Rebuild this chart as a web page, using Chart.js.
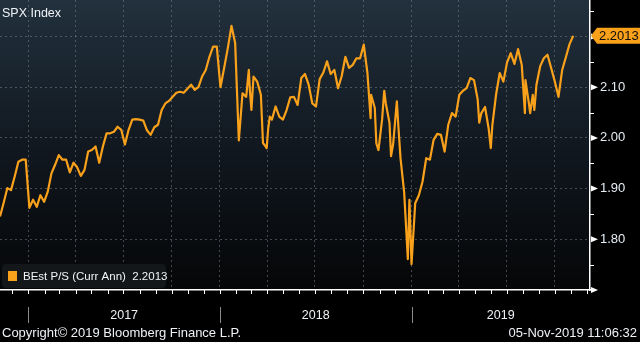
<!DOCTYPE html>
<html>
<head>
<meta charset="utf-8">
<script src="https://cdn.jsdelivr.net/npm/chart.js@4.4.1/dist/chart.umd.min.js"></script>
<style>
  html, body { margin: 0; padding: 0; background: #000; }
  #wrap { width: 640px; height: 342px; }
</style>
</head>
<body>
<div id="wrap"><canvas id="psChart" width="640" height="342"></canvas></div>
<script>
// SPX BEst P/S (Curr Ann), weekly closes starting 2016-11-08
let firstWeek = '2016-11-08'
let psRatio = [
  1.845, 1.872, 1.901, 1.897, 1.924, 1.953, 1.957, 1.957, 1.862, 1.878,
  1.864, 1.887, 1.874, 1.894, 1.930, 1.947, 1.966, 1.957, 1.957, 1.932,
  1.951, 1.942, 1.925, 1.937, 1.973, 1.976, 1.983, 1.951, 1.983, 2.009,
  2.009, 2.012, 2.022, 2.016, 1.987, 2.016, 2.036, 2.037, 2.036, 2.034,
  2.015, 2.006, 2.021, 2.026, 2.055, 2.068, 2.073, 2.081, 2.089, 2.091,
  2.089, 2.097, 2.105, 2.095, 2.100, 2.121, 2.134, 2.160, 2.180, 2.180,
  2.100, 2.138, 2.177, 2.221, 2.187, 1.995, 2.088, 2.081, 2.095, 2.121,
  2.111, 2.085, 1.986, 2.019, 2.036, 2.062, 2.042, 2.036, 2.055, 2.080,
  2.081, 2.065, 2.118, 2.126, 2.105, 2.068, 2.062, 2.116, 2.129, 2.151,
  2.126, 2.134, 2.098, 2.122, 2.160, 2.138, 2.144, 2.157, 2.157, 2.184,
  2.128, 2.085, 2.059, 1.976, 2.037, 2.068, 2.030, 1.988, 2.072, 1.960,
  1.892, 1.761, 1.751, 1.871, 1.887, 1.914, 1.960, 1.957, 1.996, 2.008,
  2.006, 1.973, 2.026, 2.049, 2.042, 2.085, 2.093, 2.098, 2.118, 2.114,
  2.076, 2.049, 2.061, 2.018, 2.025, 2.085, 2.128, 2.111, 2.149, 2.167,
  2.146, 2.175, 2.144, 2.114, 2.065, 2.085, 2.105, 2.141, 2.157, 2.164,
  2.138, 2.111, 2.081, 2.134, 2.159, 2.185, 2.2013
]

// intraweek highs and lows the weekly closes skip over
let intraweekDates = [
  '2018-02-25', '2018-03-02', '2018-03-24', '2018-03-31', '2018-04-06',
  '2018-10-15', '2018-10-26', '2018-11-10', '2018-11-23', '2018-12-07',
  '2018-12-28', '2019-05-10', '2019-06-01', '2019-08-05', '2019-08-15',
  '2019-08-23'
]
let intraweekValues = [
  2.134, 2.055, 1.990, 1.980, 2.042,
  2.039, 1.989, 2.093, 1.964, 2.022,
  1.878, 2.030, 1.980, 2.049, 2.049,
  2.055
]

let yearLabels = ['2017', '2018', '2019']
let yLabelled = [1.80, 1.90, 2.00, 2.10, 2.20]
let yMinor = [1.75, 1.85, 1.95, 2.05, 2.15, 2.25]

const epoch = Date.parse('2017-01-01')
function dayOf(s) { return (Date.parse(s) - epoch) / 864e5 }

let xMin = dayOf('2016-11-08')
let xMax = dayOf('2019-12-07')

let points = psRatio.map((v, i) => ({ x: dayOf(firstWeek) + 7 * i, y: v }))
intraweekDates.forEach((d, i) => points.push({ x: dayOf(d), y: intraweekValues[i] }))
points.sort((a, b) => a.x - b.x)
let lastValue = psRatio[psRatio.length - 1]

// month starts inside the range, quarters get a grid line
let monthStarts = []
let quarterStarts = []
for (let yr = 2016; yr <= 2019; yr++) {
  for (let m = 1; m <= 12; m++) {
    let d = dayOf(yr + '-' + String(m).padStart(2, '0') + '-01')
    if (d < xMin || d > xMax) continue
    monthStarts.push(d)
    if ((m - 1) % 3 === 0) quarterStarts.push(d)
  }
}

const FONT = '"Liberation Sans", Arial, sans-serif'
const ORANGE = '#f9a11b'
const GRID = 'rgba(120,126,132,0.55)'

// no extra room around the plot, the axes take fixed strips
function noPadding(s) {
  s.paddingTop = 0
  s.paddingBottom = 0
  s.paddingLeft = 0
  s.paddingRight = 0
}

const decorations = {
  id: 'decorations',
  beforeDraw(chart) {
    const { ctx, chartArea: a } = chart
    ctx.save()
    ctx.fillStyle = '#000'
    ctx.fillRect(0, 0, chart.width, chart.height)
    let g = ctx.createLinearGradient(0, a.top, 0, a.bottom)
    g.addColorStop(0, '#22313d')
    g.addColorStop(0.5, '#111820')
    g.addColorStop(1, '#050607')
    ctx.fillStyle = g
    ctx.fillRect(a.left, a.top, a.right - a.left, a.bottom - a.top)
    ctx.restore()
  },
  afterDraw(chart) {
    const { ctx, chartArea: a, scales: { x, y } } = chart
    ctx.save()
    ctx.textBaseline = 'middle'

    // title
    ctx.font = '12.5px ' + FONT
    ctx.fillStyle = '#eef2f6'
    ctx.textAlign = 'left'
    ctx.fillText('SPX Index', 2, 14)

    // monthly ticks under the time axis
    ctx.strokeStyle = '#ffffff'
    ctx.lineWidth = 1
    monthStarts.forEach(d => {
      let px = Math.round(x.getPixelForValue(d)) + 0.5
      ctx.beginPath()
      ctx.moveTo(px, a.bottom)
      ctx.lineTo(px, a.bottom + 4)
      ctx.stroke()
    })

    // year separators and year names
    ctx.font = '12.5px ' + FONT
    ctx.textAlign = 'center'
    yearLabels.forEach(yr => {
      let p0 = x.getPixelForValue(dayOf(yr + '-01-01'))
      let p1 = x.getPixelForValue(Math.min(dayOf((+yr + 1) + '-01-01'), xMax))
      let px = Math.round(p0) + 0.5
      ctx.strokeStyle = '#8a8a8a'
      ctx.beginPath()
      ctx.moveTo(px, a.bottom + 17)
      ctx.lineTo(px, a.bottom + 33)
      ctx.stroke()
      ctx.fillStyle = '#eef2f6'
      ctx.fillText(yr, (p0 + p1) / 2, a.bottom + 26)
    })

    // value axis: small ticks and arrow markers
    ctx.strokeStyle = '#ffffff'
    yMinor.forEach(v => {
      let py = Math.round(y.getPixelForValue(v)) + 0.5
      ctx.beginPath()
      ctx.moveTo(a.right, py)
      ctx.lineTo(a.right + 4, py)
      ctx.stroke()
    })
    ctx.fillStyle = '#ffffff'
    yLabelled.concat([1.70]).forEach(v => {
      let py = y.getPixelForValue(v)
      ctx.beginPath()
      ctx.moveTo(a.right + 1, py - 3)
      ctx.lineTo(a.right + 8, py)
      ctx.lineTo(a.right + 1, py + 3)
      ctx.closePath()
      ctx.fill()
    })

    // last value tag
    let py = y.getPixelForValue(lastValue)
    ctx.fillStyle = ORANGE
    ctx.beginPath()
    ctx.moveTo(a.right + 1, py)
    ctx.lineTo(a.right + 7, py - 8)
    ctx.lineTo(chart.width, py - 8)
    ctx.lineTo(chart.width, py + 8)
    ctx.lineTo(a.right + 7, py + 8)
    ctx.closePath()
    ctx.fill()
    ctx.fillStyle = '#0d0d0d'
    ctx.font = '13px ' + FONT
    ctx.textAlign = 'left'
    ctx.fillText(lastValue.toFixed(4), a.right + 9, py + 1)

    // legend
    ctx.fillStyle = '#141719'
    ctx.beginPath()
    ctx.roundRect(2, 264, 164, 24, 4)
    ctx.fill()
    ctx.fillStyle = ORANGE
    ctx.fillRect(8, 271, 9, 10)
    ctx.fillStyle = '#f2f4f6'
    ctx.font = '11.5px ' + FONT
    ctx.fillText('BEst P/S (Curr Ann)  ' + lastValue.toFixed(4), 23, 277)

    // footer
    ctx.font = '13px ' + FONT
    ctx.fillStyle = '#eef2f6'
    ctx.fillText('Copyright\u00a9 2019 Bloomberg Finance L.P.', 2, 333)
    ctx.textAlign = 'right'
    ctx.fillText('05-Nov-2019 11:06:32', 637, 333)
    ctx.restore()
  }
}

var ctxPs = document.getElementById('psChart').getContext('2d')
var chartPs = new Chart(ctxPs, {
  type: 'line',
  data: {
    datasets: [{
      label: 'BEst P/S (Curr Ann)',
      data: points,
      borderColor: ORANGE,
      borderWidth: 2.2,
      pointRadius: 0,
      tension: 0,
      borderJoinStyle: 'round'
    }]
  },
  options: {
    responsive: false,
    animation: false,
    layout: { padding: 0 },
    plugins: { legend: { display: false }, tooltip: { enabled: false } },
    scales: {
      x: {
        type: 'linear',
        min: xMin,
        max: xMax,
        afterBuildTicks: s => { s.ticks = quarterStarts.map(v => ({ value: v })) },
        afterFit: s => { s.height = 52; noPadding(s) },
        ticks: { display: false },
        grid: { color: GRID, drawTicks: false },
        border: { color: '#ffffff', width: 1.5, dash: [2, 3] }
      },
      y: {
        position: 'right',
        min: 1.70,
        max: 2.272,
        afterBuildTicks: s => { s.ticks = yLabelled.map(v => ({ value: v })) },
        afterFit: s => { s.width = 50; noPadding(s) },
        ticks: {
          color: '#e6edf4',
          padding: 10,
          font: { family: FONT, size: 13 },
          callback: v => v.toFixed(2)
        },
        grid: { color: GRID, drawTicks: false },
        border: { color: '#ffffff', width: 1.5, dash: [2, 3] }
      }
    }
  },
  plugins: [decorations]
})
</script>
</body>
</html>
